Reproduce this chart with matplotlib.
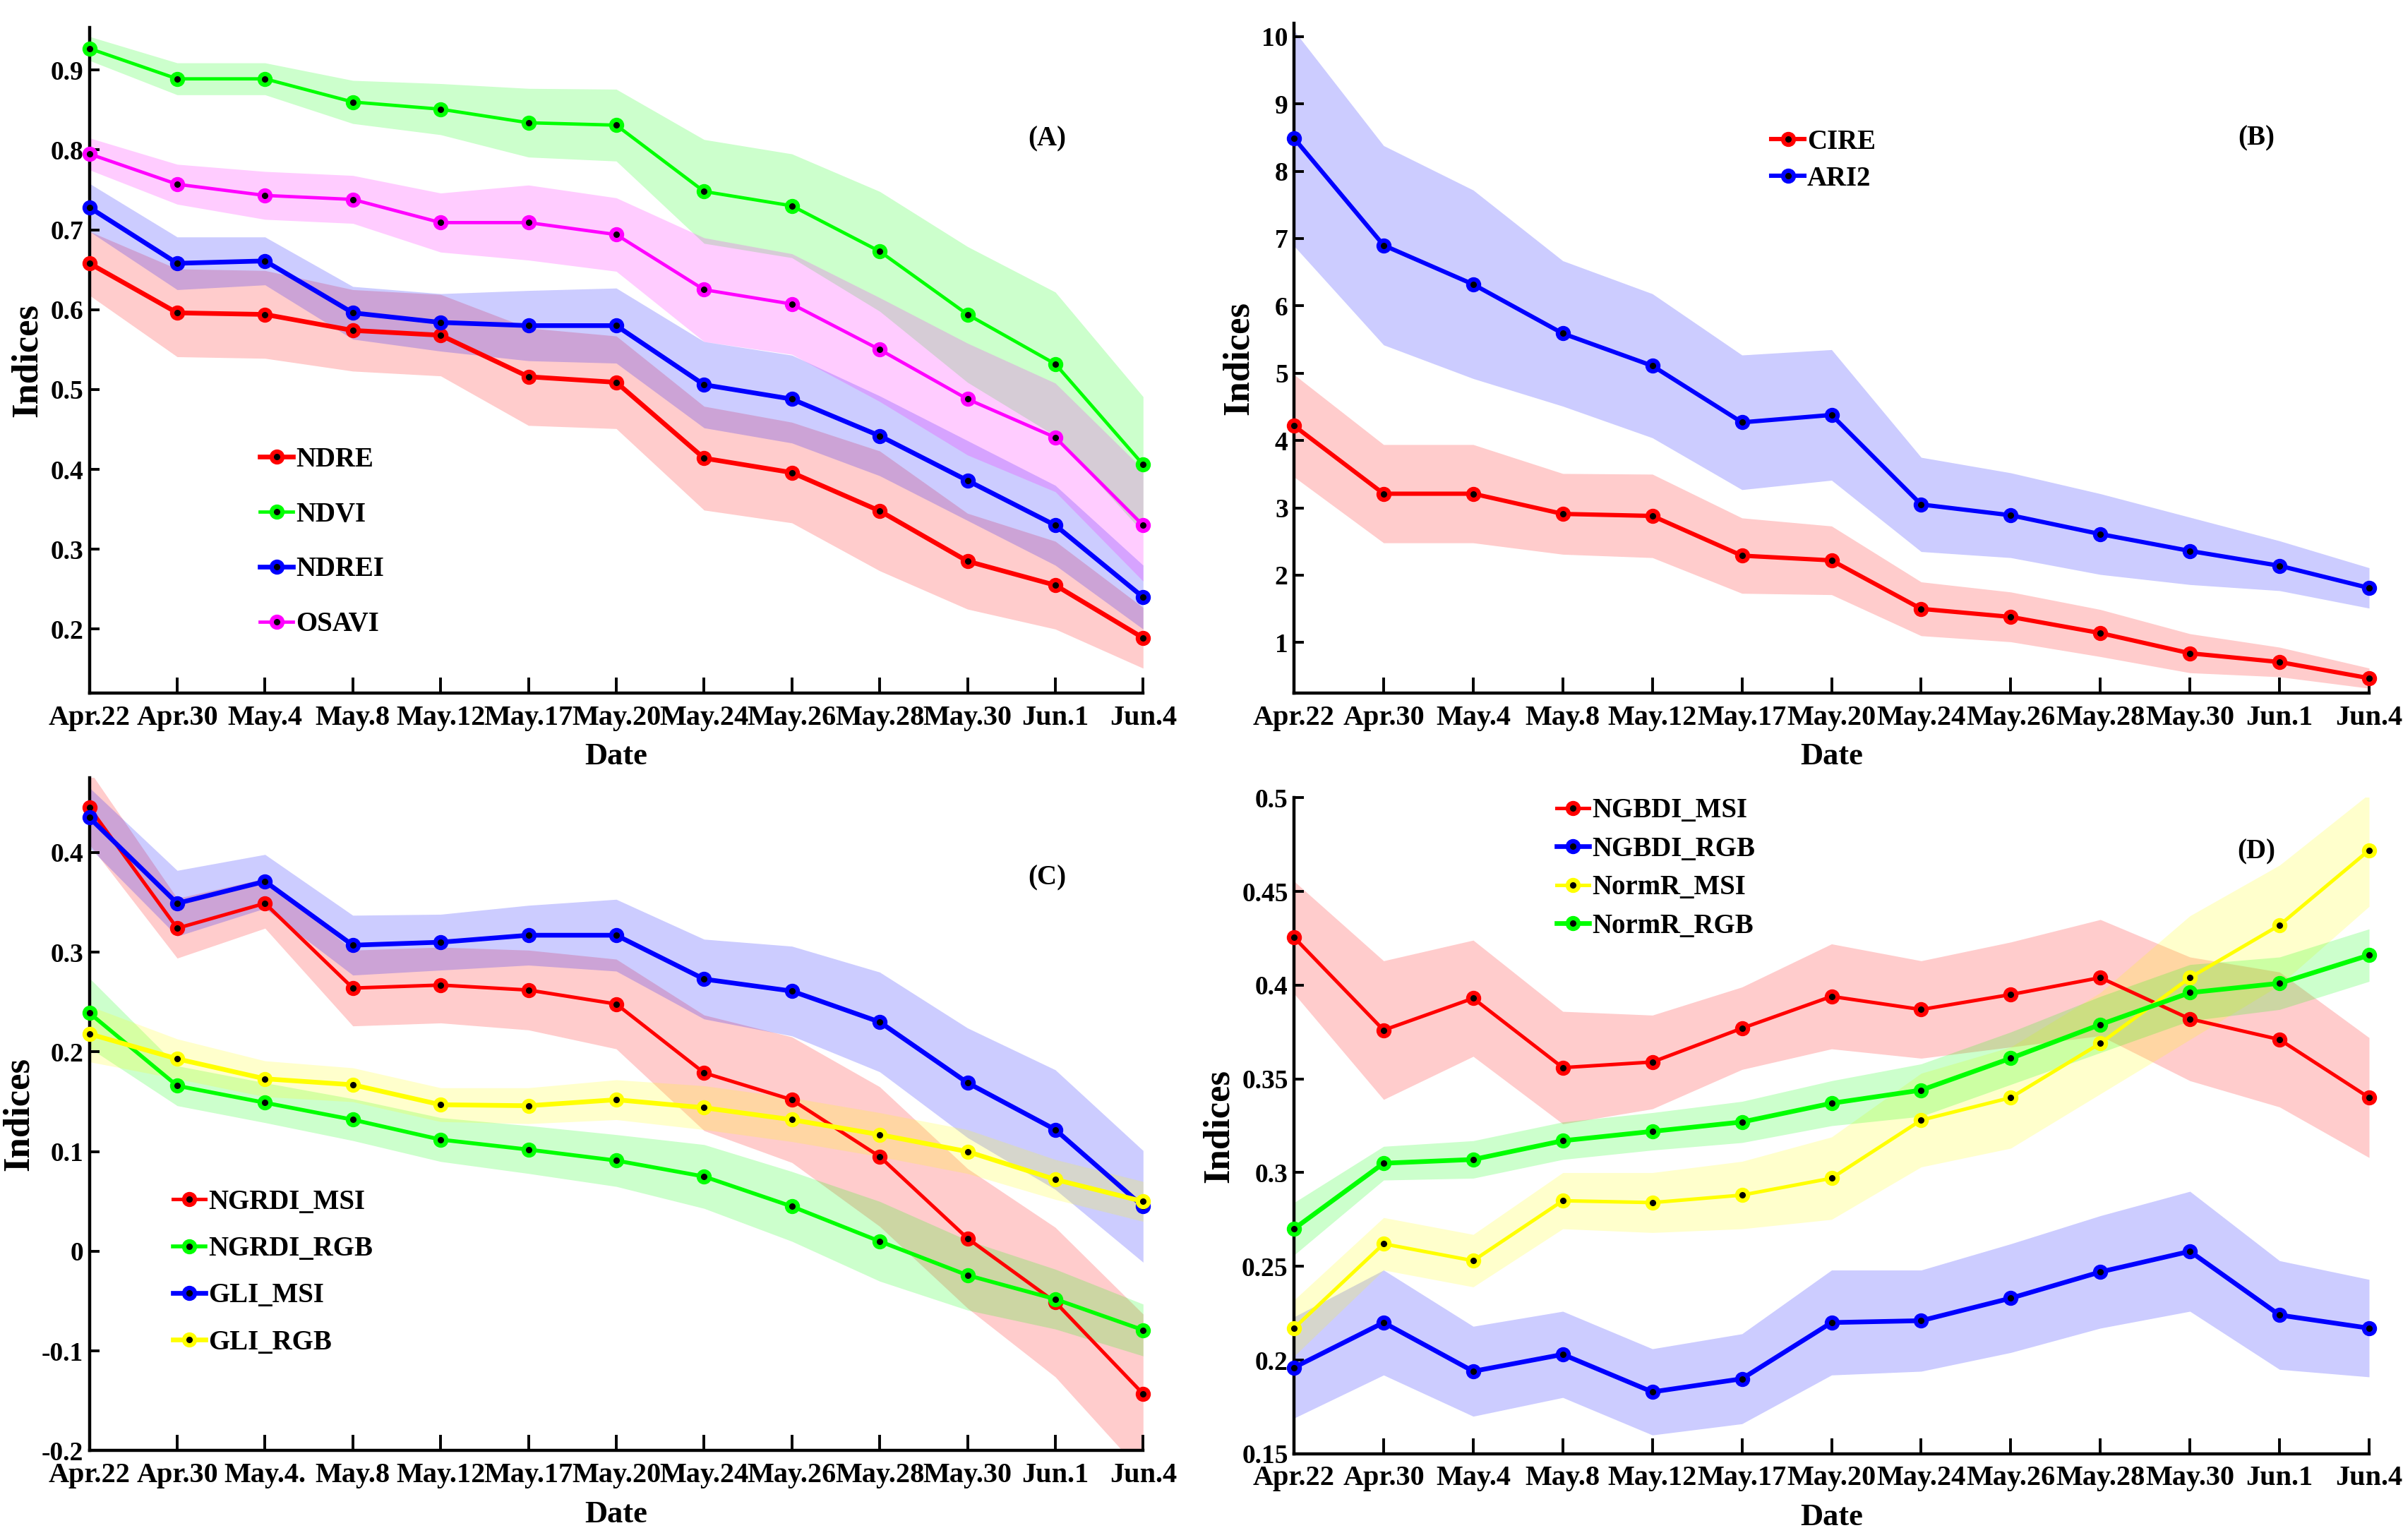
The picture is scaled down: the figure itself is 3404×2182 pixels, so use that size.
import matplotlib.pyplot as plt
import numpy as np

plt.rcParams['font.family'] = 'Liberation Serif'
plt.rcParams['font.weight'] = 'bold'

dates = ['Apr.22', 'Apr.30', 'May.4', 'May.8', 'May.12', 'May.17', 'May.20',
         'May.24', 'May.26', 'May.28', 'May.30', 'Jun.1', 'Jun.4']
dates_c = ['Apr.22', 'Apr.30', 'May.4.', 'May.8', 'May.12', 'May.17', 'May.20',
           'May.24', 'May.26', 'May.28', 'May.30', 'Jun.1', 'Jun.4']

# (A) mean and half-width of the shaded band
ndre = [0.658, 0.596, 0.594, 0.574, 0.568, 0.516, 0.509, 0.414, 0.396, 0.348, 0.285, 0.255, 0.189]
ndre_sd = [0.040, 0.055, 0.055, 0.051, 0.051, 0.061, 0.058, 0.065, 0.063, 0.075, 0.060, 0.055, 0.038]
ndvi = [0.927, 0.889, 0.889, 0.860, 0.851, 0.834, 0.831, 0.748, 0.730, 0.673, 0.594, 0.532, 0.406]
ndvi_sd = [0.015, 0.020, 0.020, 0.027, 0.032, 0.043, 0.045, 0.065, 0.065, 0.075, 0.085, 0.090, 0.085]
ndrei = [0.728, 0.658, 0.661, 0.596, 0.584, 0.580, 0.580, 0.506, 0.488, 0.442, 0.386, 0.330, 0.240]
ndrei_sd = [0.030, 0.033, 0.030, 0.033, 0.036, 0.044, 0.047, 0.054, 0.055, 0.050, 0.050, 0.050, 0.040]
osavi = [0.795, 0.757, 0.743, 0.738, 0.709, 0.709, 0.694, 0.625, 0.607, 0.550, 0.488, 0.440, 0.330]
osavi_sd = [0.020, 0.025, 0.030, 0.030, 0.037, 0.047, 0.046, 0.065, 0.063, 0.065, 0.070, 0.068, 0.070]

# (B)
cire = [4.22, 3.21, 3.21, 2.91, 2.88, 2.29, 2.22, 1.50, 1.38, 1.14, 0.84, 0.71, 0.47]
cire_sd = [0.76, 0.73, 0.73, 0.60, 0.62, 0.56, 0.51, 0.40, 0.37, 0.35, 0.29, 0.22, 0.15]
ari2 = [8.49, 6.90, 6.32, 5.59, 5.11, 4.27, 4.38, 3.05, 2.89, 2.61, 2.36, 2.14, 1.81]
ari2_sd = [1.60, 1.48, 1.40, 1.08, 1.07, 1.00, 0.97, 0.70, 0.63, 0.60, 0.50, 0.37, 0.30]

# (C)
ngrdi_msi = [0.445, 0.324, 0.349, 0.264, 0.267, 0.262, 0.248, 0.179, 0.152, 0.095, 0.013, -0.051, -0.143]
ngrdi_msi_sd = [0.037, 0.030, 0.025, 0.038, 0.038, 0.040, 0.045, 0.058, 0.063, 0.070, 0.070, 0.075, 0.080]
ngrdi_rgb = [0.239, 0.166, 0.149, 0.132, 0.112, 0.102, 0.091, 0.075, 0.045, 0.010, -0.024, -0.048, -0.079]
ngrdi_rgb_sd = [0.035, 0.020, 0.020, 0.021, 0.022, 0.024, 0.026, 0.032, 0.035, 0.040, 0.035, 0.030, 0.026]
gli_msi = [0.435, 0.349, 0.371, 0.307, 0.310, 0.317, 0.317, 0.273, 0.261, 0.230, 0.169, 0.122, 0.045]
gli_msi_sd = [0.030, 0.033, 0.027, 0.030, 0.028, 0.030, 0.036, 0.040, 0.045, 0.050, 0.055, 0.060, 0.056]
gli_rgb = [0.218, 0.193, 0.173, 0.167, 0.147, 0.146, 0.152, 0.144, 0.132, 0.117, 0.100, 0.072, 0.050]
gli_rgb_sd = [0.028, 0.020, 0.018, 0.017, 0.017, 0.018, 0.020, 0.022, 0.022, 0.022, 0.022, 0.020, 0.020]

# (D)
ngbdi_msi = [0.4255, 0.376, 0.393, 0.356, 0.359, 0.377, 0.394, 0.387, 0.395, 0.404, 0.382, 0.371, 0.340]
ngbdi_msi_sd = [0.030, 0.037, 0.031, 0.030, 0.025, 0.022, 0.028, 0.026, 0.028, 0.031, 0.033, 0.036, 0.032]
ngbdi_rgb = [0.196, 0.220, 0.194, 0.203, 0.183, 0.190, 0.220, 0.221, 0.233, 0.247, 0.258, 0.224, 0.217]
ngbdi_rgb_sd = [0.027, 0.028, 0.024, 0.023, 0.023, 0.024, 0.028, 0.027, 0.029, 0.030, 0.032, 0.029, 0.026]
normr_msi = [0.217, 0.262, 0.253, 0.285, 0.284, 0.288, 0.297, 0.328, 0.340, 0.369, 0.404, 0.432, 0.472]
normr_msi_sd = [0.015, 0.014, 0.014, 0.015, 0.016, 0.018, 0.022, 0.025, 0.027, 0.027, 0.033, 0.032, 0.030]
normr_rgb = [0.270, 0.305, 0.307, 0.317, 0.322, 0.327, 0.337, 0.344, 0.361, 0.379, 0.396, 0.401, 0.416]
normr_rgb_sd = [0.014, 0.009, 0.010, 0.010, 0.010, 0.011, 0.012, 0.014, 0.014, 0.015, 0.015, 0.014, 0.014]

RED, GREEN, BLUE, MAG, YEL = '#FF0000', '#00FF00', '#0000FF', '#FF00FF', '#FFFF00'


def draw_panel(ax, series, labels, yticks, yticklabels, ylim, tag, tag_xy,
               leg_xy, leg_space):
    x = np.arange(len(labels))
    handles = []
    for name, mean, sd, color, lw in series:
        mean = np.array(mean)
        sd = np.array(sd)
        ax.fill_between(x, mean - sd, mean + sd, color=color, alpha=0.2, lw=0)
        h, = ax.plot(x, mean, '-o', color=color, lw=lw, ms=5.5, mfc='k',
                     mec=color, mew=2.2, label=name, clip_on=False, zorder=3)
        handles.append(h)
    ax.set_xlim(0, len(labels) - 1)
    ax.set_ylim(*ylim)
    ax.set_xticks(x)
    ax.set_xticklabels(labels, fontsize=14.5)
    ax.set_yticks(yticks)
    ax.set_yticklabels(yticklabels, fontsize=13.5)
    ax.tick_params(axis='x', direction='in', length=8, width=1.4, pad=6)
    ax.tick_params(axis='y', direction='in', length=5, width=1.4, pad=3)
    for s in ['top', 'right']:
        ax.spines[s].set_visible(False)
    for s in ['left', 'bottom']:
        ax.spines[s].set_linewidth(1.6)
    ax.set_xlabel('Date', fontsize=16, fontweight='bold', labelpad=6)
    ax.set_ylabel('Indices', fontsize=19, fontweight='bold', labelpad=3)
    ax.text(tag_xy[0], tag_xy[1], tag, transform=ax.transAxes, fontsize=14,
            fontweight='bold', ha='center', va='center')
    ax.legend(handles=handles, loc='center left', bbox_to_anchor=leg_xy,
              frameon=False, fontsize=14, handlelength=1.2, handletextpad=0.1,
              labelspacing=leg_space, borderpad=0, borderaxespad=0)


fig = plt.figure(figsize=(17.02, 10.91), dpi=200)
axA = fig.add_axes([0.0372, 0.550, 0.4385, 0.432])
axB = fig.add_axes([0.5385, 0.550, 0.4474, 0.435])
axC = fig.add_axes([0.0372, 0.058, 0.4385, 0.437])
axD = fig.add_axes([0.5385, 0.056, 0.4474, 0.426])

draw_panel(axA,
           [('NDRE', ndre, ndre_sd, RED, 2.4),
            ('NDVI', ndvi, ndvi_sd, GREEN, 1.7),
            ('NDREI', ndrei, ndrei_sd, BLUE, 2.4),
            ('OSAVI', osavi, osavi_sd, MAG, 1.7)],
           dates, np.arange(0.2, 0.95, 0.1),
           ['0.2', '0.3', '0.4', '0.5', '0.6', '0.7', '0.8', '0.9'],
           (0.12, 0.953), '(A)', (0.909, 0.833), (0.162, 0.227), 1.05)

draw_panel(axB,
           [('CIRE', cire, cire_sd, RED, 2.2),
            ('ARI2', ari2, ari2_sd, BLUE, 2.2)],
           dates, np.arange(1, 11), [str(i) for i in range(1, 11)],
           (0.25, 10.2), '(B)', (0.895, 0.828), (0.444, 0.795), 0.38)

draw_panel(axC,
           [('NGRDI_MSI', ngrdi_msi, ngrdi_msi_sd, RED, 1.8),
            ('NGRDI_RGB', ngrdi_rgb, ngrdi_rgb_sd, GREEN, 2.0),
            ('GLI_MSI', gli_msi, gli_msi_sd, BLUE, 2.4),
            ('GLI_RGB', gli_rgb, gli_rgb_sd, YEL, 2.4)],
           dates_c, [-0.2, -0.1, 0, 0.1, 0.2, 0.3, 0.4],
           ['-0.2', '-0.1', '0', '0.1', '0.2', '0.3', '0.4'],
           (-0.2, 0.475), '(C)', (0.909, 0.851), (0.079, 0.265), 0.75)

draw_panel(axD,
           [('NGBDI_MSI', ngbdi_msi, ngbdi_msi_sd, RED, 1.8),
            ('NGBDI_RGB', ngbdi_rgb, ngbdi_rgb_sd, BLUE, 2.4),
            ('NormR_MSI', normr_msi, normr_msi_sd, YEL, 1.8),
            ('NormR_RGB', normr_rgb, normr_rgb_sd, GREEN, 2.4)],
           dates, [0.15, 0.2, 0.25, 0.3, 0.35, 0.4, 0.45, 0.5],
           ['0.15', '0.2', '0.25', '0.3', '0.35', '0.4', '0.45', '0.5'],
           (0.15, 0.5), '(D)', (0.895, 0.918), (0.244, 0.892), 0.45)

fig.savefig('out.png', dpi=200)
